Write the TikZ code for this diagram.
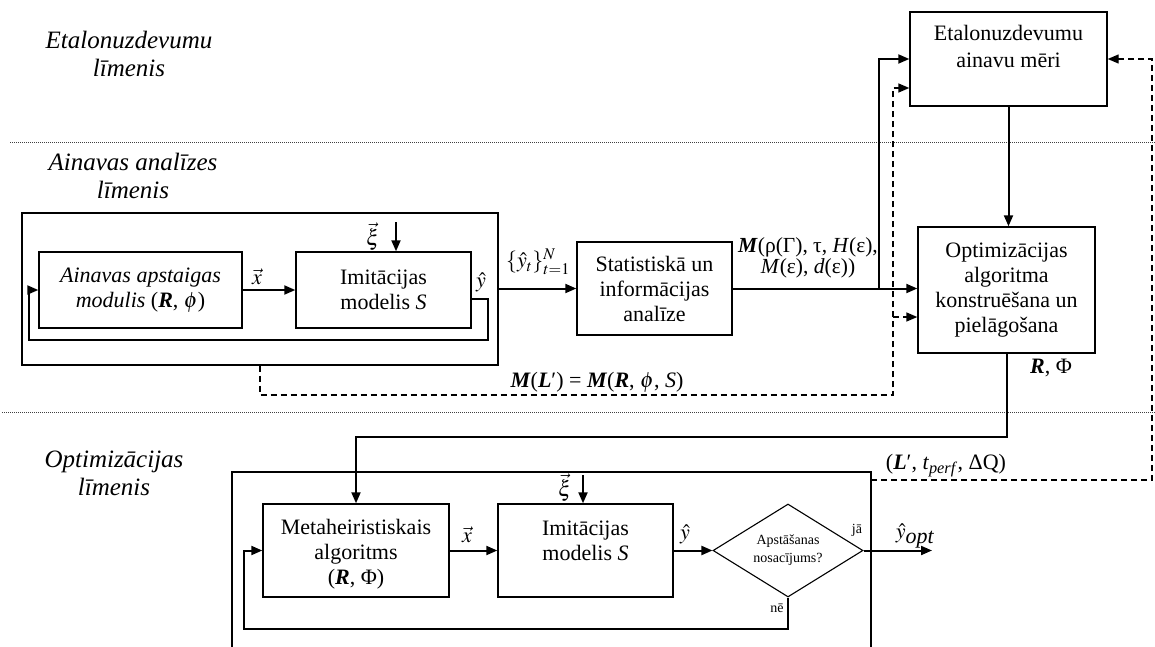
\documentclass[tikz,border=0pt]{standalone}
\usepackage{mathptmx}
\usepackage{fontspec}
\setmainfont{Liberation Serif}
\usetikzlibrary{arrows.meta,shapes.geometric,calc}
\newcommand{\BI}[1]{\textbf{\textit{#1}}}
\begin{document}
\begin{tikzpicture}[x=1pt,y=-1pt,
  box/.style={draw,line width=1.4pt,inner sep=0pt,align=center,font=\fontsize{22}{25}\selectfont},
  txt/.style={inner sep=0pt,align=center,font=\fontsize{22}{25}\selectfont},
  lbl/.style={inner sep=0pt,font=\fontsize{22}{25}\selectfont},
  lvl/.style={inner sep=0pt,align=center,font=\fontsize{25}{28}\selectfont\itshape},
  conn/.style={line width=2pt,-{Triangle[length=11pt,width=9pt]}},
  dline/.style={line width=1.4pt,dash pattern=on 6pt off 4pt},
  darr/.style={dline,-{Triangle[length=11pt,width=9pt]}},
  dotl/.style={line width=0.8pt,dash pattern=on 0.8pt off 1.2pt,black!75},
  small/.style={inner sep=0pt,font=\fontsize{14}{18}\selectfont}
]
\useasboundingbox (0,0) rectangle (1155,647);

% level separators
\draw[dotl] (10,142) -- (1155,142);
\draw[dotl] (2,412) -- (1155,412);

% level labels
\node[lvl] (lv1) at (129,54) {Etalonuzdevumu\\līmenis};
\node[lvl] (lv2) at (133,176) {Ainavas analīzes\\līmenis};
\node[lvl] (lv3) at (114,473) {Optimizācijas\\līmenis};

% landscape level
\node[draw,line width=1.4pt,minimum width=476pt,minimum height=152pt,inner sep=0pt] (outerA) at (260,289) {};
\node[box,minimum width=203pt,minimum height=76pt] (A) at (140.5,290) {\textit{Ainavas apstaigas}\\\textit{modulis} (\BI{R}, $\phi$)};
\node[box,minimum width=175pt,minimum height=76pt] (B) at (383.5,290) {Imitācijas\\modelis \textit{S}};
\node[box,minimum width=155pt,minimum height=93pt] (Stat) at (654.5,288.5) {Statistiskā un\\informācijas\\analīze};
\node[box,minimum width=197pt,minimum height=94pt] (Etalon) at (1008.5,59) {};
\node[txt,font=\fontsize{22}{27}\selectfont] (EtalonT) at (1008.5,46) {Etalonuzdevumu\\ainavu mēri};
\node[box,minimum width=177pt,minimum height=126pt] (Optim) at (1006.5,290) {Optimizācijas\\algoritma\\konstruēšana un\\pielāgošana};

% optimisation level
\draw[line width=1.4pt] (232,660) -- (232,472) -- (871,472) -- (871,660);
\node[box,minimum width=186pt,minimum height=93pt] (Meta) at (356,550.5) {};
\node[txt] (MetaT) at (356,554) {Metaheiristiskais\\algoritms\\(\BI{R}, Φ)};
\node[box,minimum width=175pt,minimum height=93pt] (Imit2) at (585.5,550.5) {};
\node[txt] (Imit2T) at (585.5,541) {Imitācijas\\modelis \textit{S}};
\node[draw,diamond,line width=1.1pt,minimum width=150pt,minimum height=93pt,shape aspect=1.6,inner sep=0pt,align=center,font=\fontsize{14}{18}\selectfont] (D) at (788,550.5) {Apstāšanas\\nosacījums?};

% coordinates
\coordinate (xi1) at (396,222);
\coordinate (fb1) at (488,299);
\coordinate (fb2) at (488,340);
\coordinate (fb3) at (29,340);
\coordinate (fb4) at (29,290);
\coordinate (j1) at (879,288.5);
\coordinate (r1) at (0,437);
\coordinate (dv) at (893,395);
\coordinate (dt) at (893,88);
\coordinate (db) at (893,317);
\coordinate (o2r) at (871,480);
\coordinate (rv) at (1152,480);
\coordinate (xi2) at (583,475);
\coordinate (out) at (932,550.5);
\coordinate (lb) at (244,629);

% upper connectors
\draw[conn] (A.east) -- (B.west);
\draw[conn] (xi1) -- (xi1 |- B.north);
\draw[conn] (B.east |- fb1) -- (fb1) -- (fb2) -- (fb3) -- (fb4) -- (A.west);
\draw[conn] (outerA.east |- Stat.west) -- (Stat.west);
\draw[conn] (Stat.east) -- (Stat.east -| Optim.west);
\draw[conn] (j1) |- (Etalon.west);
\draw[conn] (Etalon.south) -- (Etalon.south |- Optim.north);
\draw[conn] (Optim.south) -- (Optim.south |- r1) -| (Meta.north);

% dashed connectors
\draw[darr] (outerA.south) |- (dv) -- (dt) -- (dt -| Etalon.west);
\draw[darr] (db) -- (db -| Optim.west);
\draw[darr] (o2r) -- (rv) |- (Etalon.east);

% lower connectors
\draw[conn] (xi2) -- (xi2 |- Imit2.north);
\draw[conn] (Meta.east) -- (Imit2.west);
\draw[conn] (Imit2.east) -- (D.west);
\draw[conn] (D.east) -- (out);
\draw[conn] (D.south) |- (lb) |- (Meta.west);

% labels
\node[lbl] (lx1) at (257,277) {$\vec{x}$};
\node[lbl] (lxi1) at (373,237) {$\vec{\xi}$};
\node[lbl] (ly1) at (481,282) {$\hat{y}$};
\node[lbl] (lyt) at (538,262) {$\{\hat{y}_t\}^{N}_{t=1}$};
\node[lbl,align=center,font=\fontsize{21.5}{19}\selectfont] (lM) at (808,258) {\BI{M}(ρ(Γ), τ, \textit{H}(ε),\\\textit{M}(ε), \textit{d}(ε))};
\node[lbl] (lML) at (597,382) {\BI{M}(\BI{L}′) = \BI{M}(\BI{R}, $\phi$, \textit{S})};
\node[lbl] (lRP) at (1051,368) {\BI{R}, Φ};
\node[lbl] (lLt) at (946,466) {(\BI{L}′, \textit{t}\textsubscript{\textit{perf}}, ΔQ)};
\node[small] (lja) at (857,530) {jā};
\node[small] (lne) at (777,608) {nē};
\node[lbl] (lyo) at (915,536) {$\hat{y}_{\textit{opt}}$};
\node[lbl] (lx2) at (467,535) {$\vec{x}$};
\node[lbl] (lxi2) at (565,488) {$\vec{\xi}$};
\node[lbl] (ly2) at (685,534) {$\hat{y}$};
\end{tikzpicture}
\end{document}
